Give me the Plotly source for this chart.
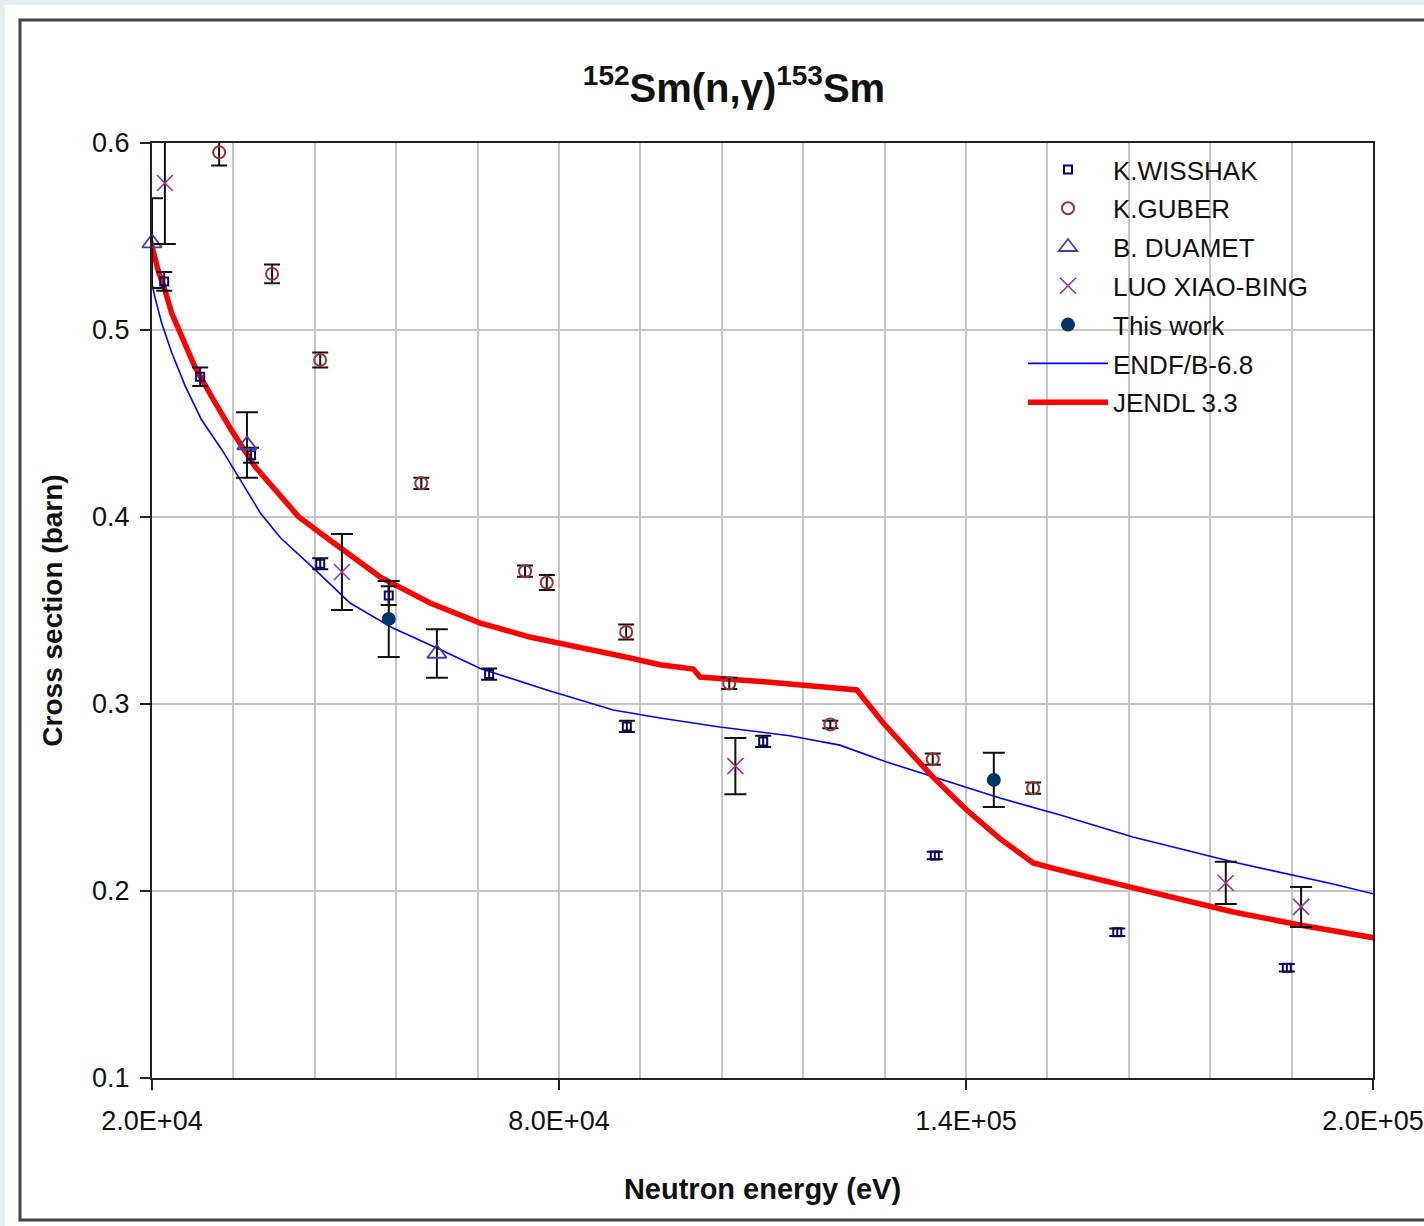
import plotly.graph_objects as go

# ---------------- data ----------------
wis_E = [21.8e3, 27.1e3, 34.6e3, 44.8e3, 54.9e3, 69.7e3, 90.0e3, 110.1e3, 135.4e3, 162.3e3, 187.3e3]
wis_s = [0.526, 0.475, 0.433, 0.375, 0.358, 0.316, 0.288, 0.280, 0.219, 0.178, 0.159]
wis_err = [0.005, 0.005, 0.004, 0.003, 0.005, 0.003, 0.003, 0.003, 0.002, 0.002, 0.002]

gub_E = [29.9e3, 37.7e3, 44.8e3, 59.7e3, 75.0e3, 78.2e3, 89.9e3, 105.1e3, 120.0e3, 135.1e3, 149.9e3]
gub_s = [0.595, 0.530, 0.484, 0.418, 0.371, 0.365, 0.3385, 0.311, 0.289, 0.2705, 0.255]
gub_err = [0.007, 0.005, 0.004, 0.003, 0.003, 0.004, 0.004, 0.003, 0.002, 0.003, 0.003]

dua_E = [20.0e3, 34.0e3, 62.0e3]
dua_s = [0.5465, 0.4385, 0.327]
dua_err = [0.024, 0.0175, 0.013]

luo_E = [21.9e3, 48.0e3, 106.0e3, 178.3e3, 189.4e3]
luo_s = [0.5786, 0.3706, 0.2668, 0.2043, 0.1915]
luo_err = [0.0326, 0.0203, 0.015, 0.0113, 0.0107]

tw_E = [54.9e3, 144.1e3]
tw_s = [0.3455, 0.2594]
tw_err = [0.0203, 0.0145]

endf_E = [18.2e3, 19.0e3, 19.7e3, 20.4e3, 21.4e3, 22.9e3, 24.9e3, 27.3e3, 30.3e3, 33.2e3,
          36.0e3, 38.9e3, 43.8e3, 49.2e3, 55.5e3, 62.0e3, 68.4e3, 78.2e3, 88.0e3, 94.9e3,
          103.7e3, 114.0e3, 121.4e3, 128.3e3, 135.1e3, 145.0e3, 153.9e3, 164.6e3, 179.4e3,
          194.1e3, 202.0e3]
endf_s = [0.549, 0.541, 0.530, 0.518, 0.504, 0.488, 0.470, 0.452, 0.436, 0.419,
          0.402, 0.389, 0.3727, 0.354, 0.3406, 0.330, 0.319, 0.3075, 0.2968, 0.2925,
          0.2877, 0.283, 0.278, 0.269, 0.261, 0.2497, 0.2406, 0.2289, 0.2155,
          0.2037, 0.1968]

jendl_E = [18.5e3, 19.0e3, 20.0e3, 20.9e3, 21.9e3, 22.9e3, 24.4e3, 26.3e3, 28.8e3, 31.7e3,
           35.2e3, 38.1e3, 41.6e3, 46.2e3, 53.6e3, 61.0e3, 68.4e3, 75.7e3, 83.1e3, 90.5e3,
           94.9e3, 99.8e3, 100.8e3, 110.7e3, 123.9e3, 127.8e3, 135.1e3, 140.1e3, 145.0e3,
           149.9e3, 153.9e3, 164.6e3, 179.4e3, 189.2e3, 202.0e3]
jendl_s = [0.572, 0.559, 0.5446, 0.532, 0.5214, 0.509, 0.4965, 0.4804, 0.4643, 0.4465,
           0.4269, 0.4144, 0.4002, 0.3877, 0.368, 0.354, 0.3433, 0.3358, 0.3305, 0.3246,
           0.321, 0.3187, 0.3144, 0.3118, 0.3075, 0.2898, 0.261, 0.2433, 0.228,
           0.215, 0.2112, 0.2016, 0.1888, 0.1818, 0.1738]

x_tickvals = [2.0e4, 8.0e4, 1.4e5, 2.0e5]
x_ticktext = ["2.0E+04", "8.0E+04", "1.4E+05", "2.0E+05"]
y_tickvals = [0.1, 0.2, 0.3, 0.4, 0.5, 0.6]
y_ticktext = ["0.1", "0.2", "0.3", "0.4", "0.5", "0.6"]

# ---------------- figure ----------------
W, H = 1424, 1226
L, R, T, B = 152, 1373, 143, 1078
FONT = "Liberation Sans"

def px2paper_x(p):
    return (p - L) / (R - L)

def px2paper_y(p):
    return (B - p) / (B - T)

fig = go.Figure()

fig.add_trace(go.Scatter(x=endf_E, y=endf_s, mode="lines", name="ENDF/B-6.8",
                         line=dict(color="#0000ff", width=1.6), legendrank=6, legendgroup="g6"))
fig.add_trace(go.Scatter(x=jendl_E, y=jendl_s, mode="lines", name="JENDL 3.3",
                         line=dict(color="#ff0000", width=5.5), legendrank=7, legendgroup="g7"))

def err(arr, w=8):
    return dict(type="data", array=arr, color="#111111", thickness=2, width=w)

fig.add_trace(go.Scatter(x=wis_E, y=wis_s, mode="markers", name="K.WISSHAK",
                         marker=dict(symbol="square-open", size=8, color="#000080", line=dict(width=2)),
                         error_y=err(wis_err), cliponaxis=False, legendrank=1, legendgroup="g1"))
fig.add_trace(go.Scatter(x=gub_E, y=gub_s, mode="markers", name="K.GUBER",
                         marker=dict(symbol="circle-open", size=12, color="#993333", line=dict(width=2)),
                         error_y=err(gub_err), cliponaxis=False, legendrank=2, legendgroup="g2"))
fig.add_trace(go.Scatter(x=dua_E, y=dua_s, mode="markers", name="B. DUAMET",
                         marker=dict(symbol="triangle-up-open", size=17, color="#4040b0", line=dict(width=1.8)),
                         error_y=err(dua_err, 11), cliponaxis=False, legendrank=3, legendgroup="g3"))
fig.add_trace(go.Scatter(x=luo_E, y=luo_s, mode="markers", name="LUO XIAO-BING",
                         marker=dict(symbol="x-thin-open", size=16, color="#993399",
                                     line=dict(width=1.6, color="#993399")),
                         error_y=err(luo_err, 11), cliponaxis=False, legendrank=4, legendgroup="g4"))
fig.add_trace(go.Scatter(x=tw_E, y=tw_s, mode="markers", name="This work",
                         marker=dict(symbol="circle", size=14, color="#003366"),
                         error_y=err(tw_err, 11), cliponaxis=False, legendrank=5, legendgroup="g5"))

axis_common = dict(showline=True, linecolor="#222222", linewidth=2, mirror=True,
                   ticks="outside", ticklen=10, tickwidth=2, tickcolor="#222222",
                   gridcolor="#c6c6c6", gridwidth=2, zeroline=False, automargin=False,
                   tickfont=dict(family=FONT, size=27, color="#111111"))

fig.update_xaxes(range=[2.0e4, 2.0e5], tickmode="array", tickvals=x_tickvals, ticktext=x_ticktext,
                 ticklabelstandoff=8,
                 minor=dict(tick0=2.0e4, dtick=1.2e4, showgrid=True, gridcolor="#c6c6c6", gridwidth=2, ticklen=0),
                 title=dict(text="<b>Neutron energy (eV)</b>", font=dict(family=FONT, size=29, color="#111111"),
                            standoff=43),
                 **axis_common)
fig.update_yaxes(range=[0.1, 0.6], tickmode="array", tickvals=y_tickvals, ticktext=y_ticktext,
                 ticklabelstandoff=5,
                 title=dict(text="<b>Cross section (barn)</b>", font=dict(family=FONT, size=28, color="#111111"),
                            standoff=21),
                 **axis_common)

shapes = [
    # page background card
    dict(type="rect", xref="paper", yref="paper", layer="below",
         x0=px2paper_x(5), x1=px2paper_x(1440), y0=px2paper_y(1226), y1=px2paper_y(5),
         fillcolor="white", line=dict(width=0)),
    # chart frame
    dict(type="rect", xref="paper", yref="paper", layer="below",
         x0=px2paper_x(20), x1=px2paper_x(1445), y0=px2paper_y(1220), y1=px2paper_y(20),
         fillcolor="white", line=dict(color="#444444", width=3)),
    # legend background hiding the gridlines
    dict(type="rect", xref="paper", yref="paper", layer="between",
         x0=px2paper_x(1022), x1=1.0, y0=px2paper_y(426), y1=1.0,
         fillcolor="white", line=dict(width=0)),
]

fig.update_layout(
    width=W, height=H,
    margin=dict(l=L, r=W - R, t=T, b=H - B, pad=0, autoexpand=False),
    paper_bgcolor="#e6ebf2",
    plot_bgcolor="white",
    font=dict(family=FONT, color="#111111"),
    title=dict(text="<b><sup>152</sup>Sm(n,γ)<sup>153</sup>Sm</b>", x=734 / W, xanchor="center",
               y=1 - 88 / H, yanchor="middle", font=dict(family=FONT, size=40, color="#111111")),
    legend=dict(x=px2paper_x(1023), y=px2paper_y(146), xanchor="left", yanchor="top",
                bgcolor="rgba(0,0,0,0)", borderwidth=0, itemwidth=80, tracegroupgap=2,
                font=dict(family=FONT, size=26, color="#111111")),
    shapes=shapes,
    showlegend=True,
)

fig.write_html("out.html", config={"displayModeBar": False},
               post_script="document.body.style.margin='0';document.body.style.overflow='hidden';")
